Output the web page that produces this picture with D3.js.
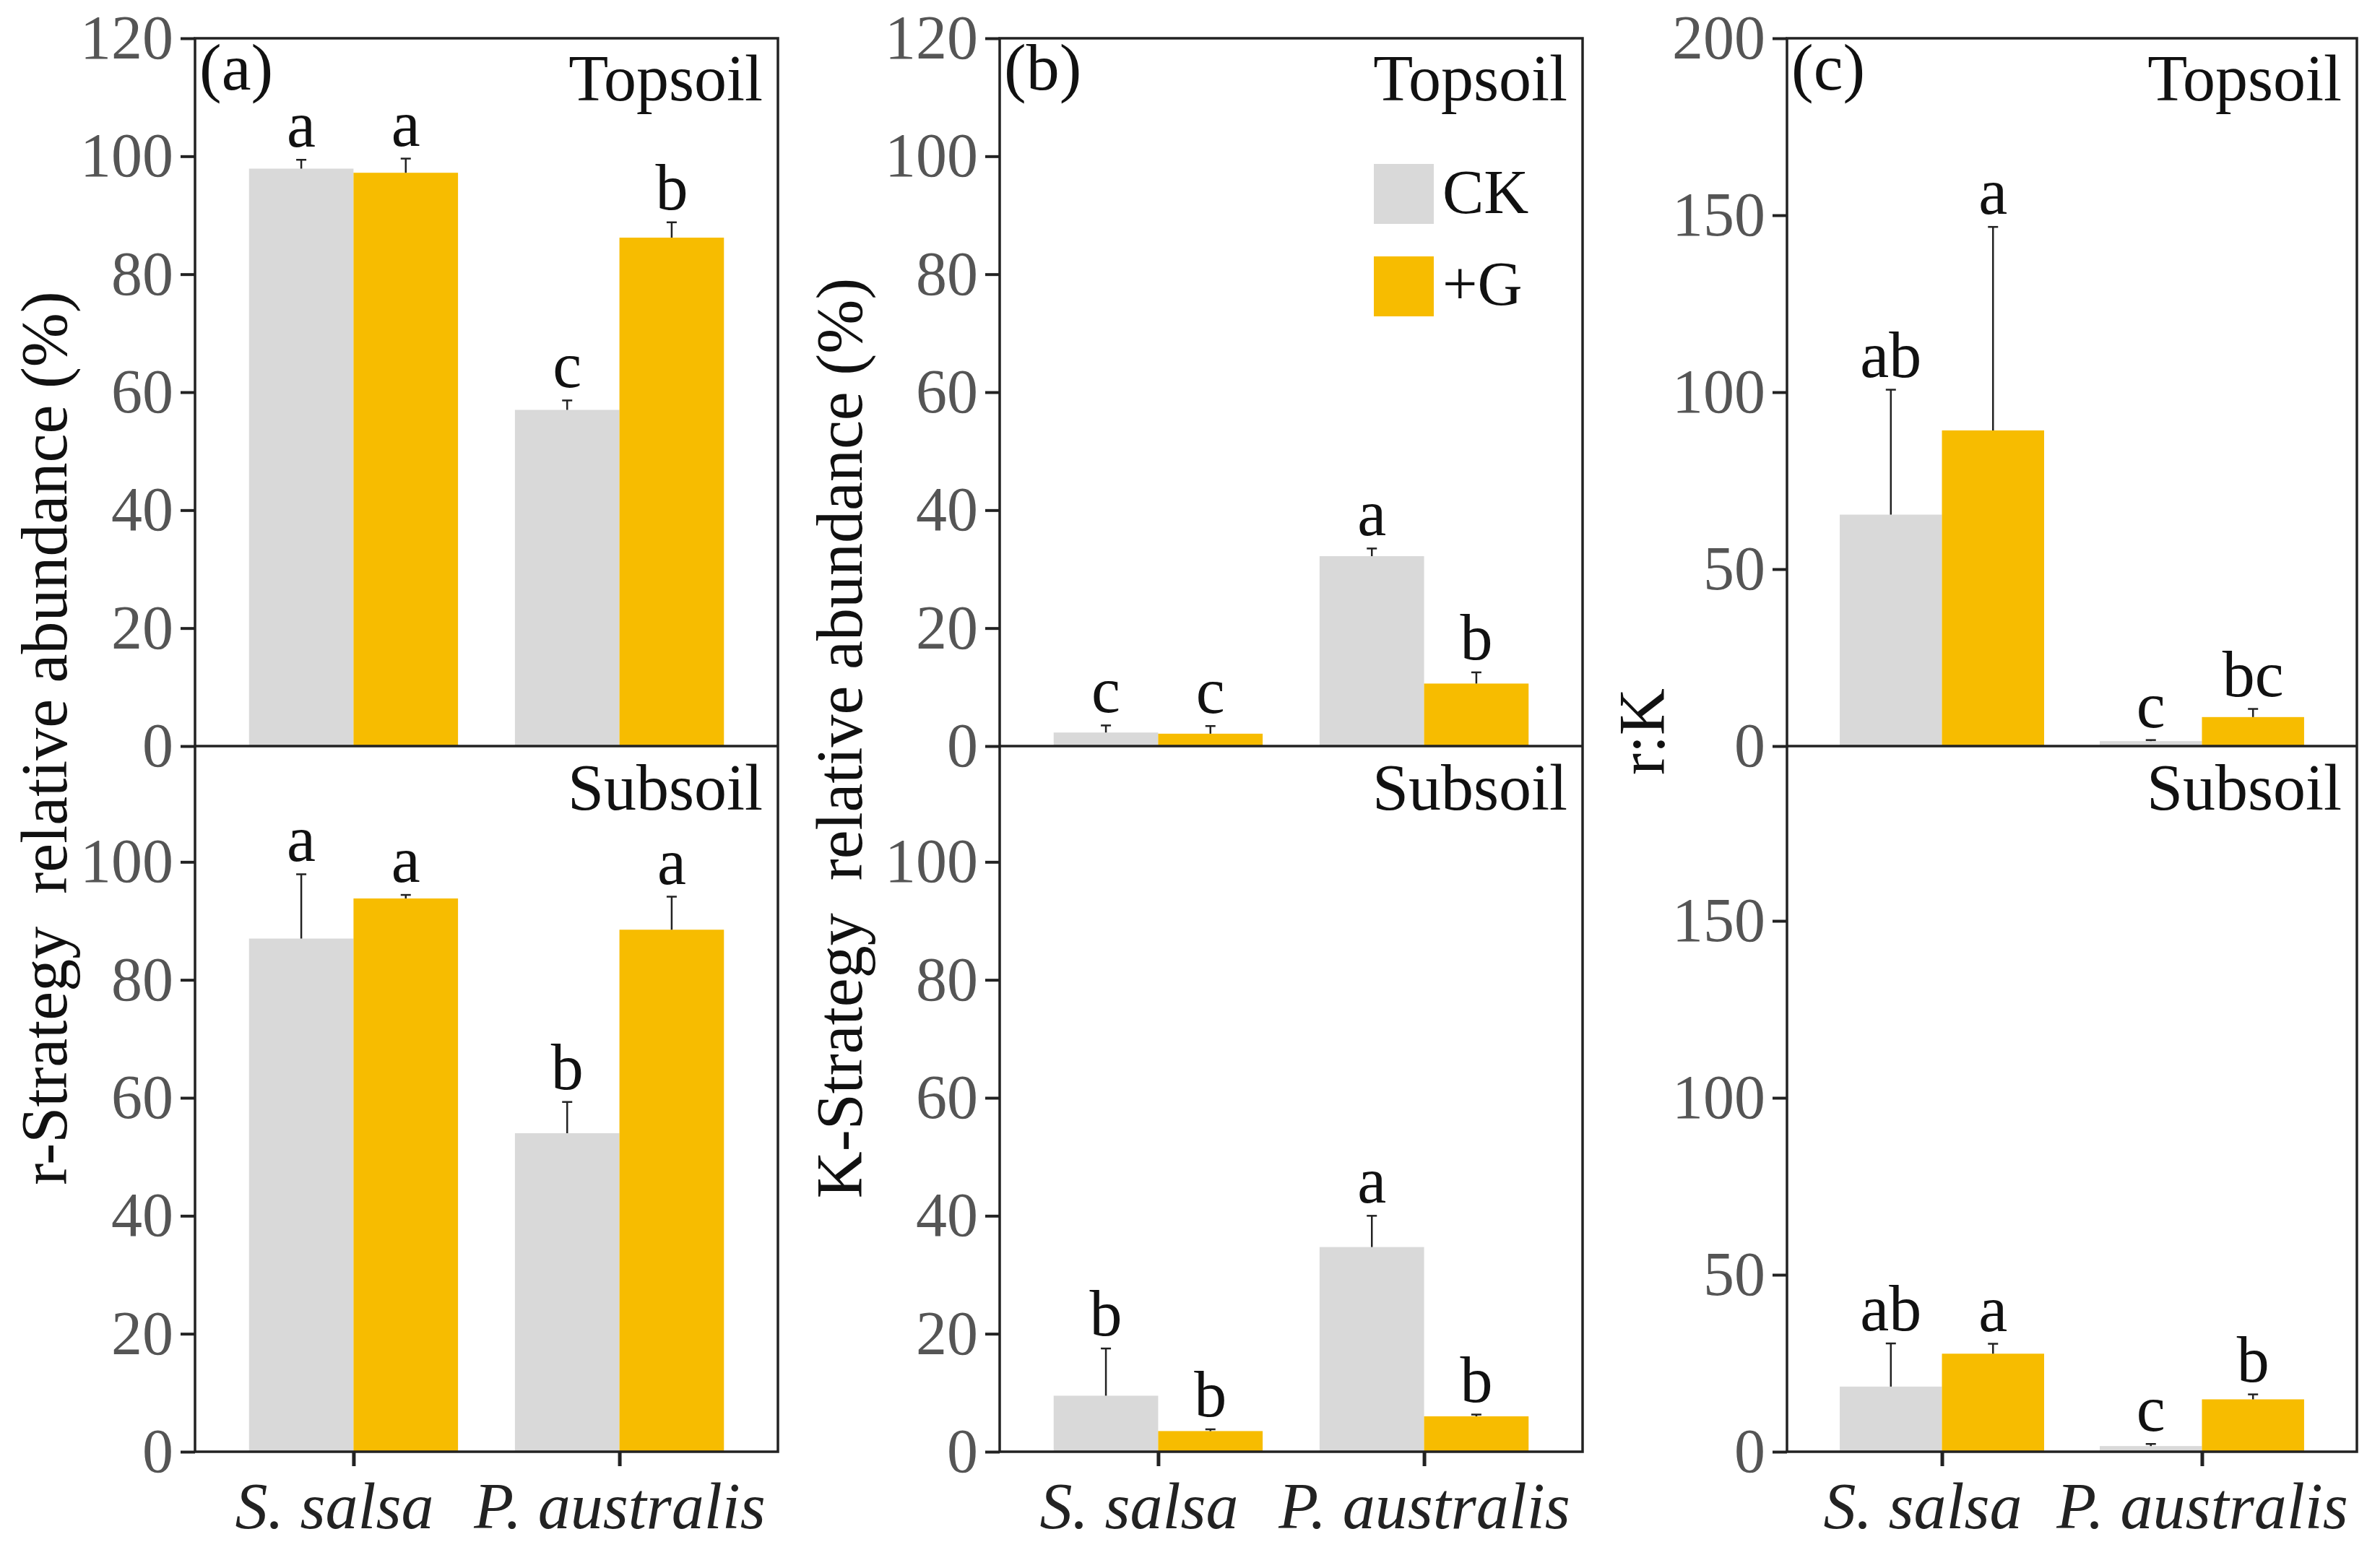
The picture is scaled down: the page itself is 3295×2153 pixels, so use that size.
<!DOCTYPE html>
<html>
<head>
<meta charset="utf-8">
<script src="https://cdn.jsdelivr.net/npm/d3@7"></script>
<style>
body { margin: 0; background: #fff; }
svg text { font-family: "Liberation Serif", "Times New Roman", Times, "DejaVu Serif", serif; }
</style>
</head>
<body>
<svg width="3295" height="2153"></svg>
<script>
// ---- data ----
var sites = ["S. salsa", "P. australis"];
var treatments = ["CK", "+G"];
var colors = ["#d9d9d9", "#f7bc00"];

// (a) r-strategy relative abundance (%)
var rTopCK = [97.9, 57.0], rTopCKse = [1.5, 1.6], rTopCKlet = ["a", "c"];
var rTopG = [97.2, 86.2], rTopGse = [2.4, 2.6], rTopGlet = ["a", "b"];
var rSubCK = [87.0, 54.0], rSubCKse = [10.9, 5.3], rSubCKlet = ["a", "b"];
var rSubG = [93.8, 88.5], rSubGse = [0.6, 5.6], rSubGlet = ["a", "a"];

// (b) K-strategy relative abundance (%)
var kTopCK = [2.3, 32.2], kTopCKse = [1.2, 1.3], kTopCKlet = ["c", "a"];
var kTopG = [2.1, 10.6], kTopGse = [1.3, 1.9], kTopGlet = ["c", "b"];
var kSubCK = [9.5, 34.7], kSubCKse = [8.0, 5.3], kSubCKlet = ["b", "a"];
var kSubG = [3.5, 6.0], kSubGse = [0.3, 0.3], kSubGlet = ["b", "b"];

// (c) r:K
var rkTopCK = [65.4, 1.4], rkTopCKse = [35.3, 0.3], rkTopCKlet = ["ab", "c"];
var rkTopG = [89.2, 8.2], rkTopGse = [57.5, 2.3], rkTopGlet = ["a", "bc"];
var rkSubCK = [18.4, 1.6], rkSubCKse = [12.2, 0.6], rkSubCKlet = ["ab", "c"];
var rkSubG = [27.7, 14.8], rkSubGse = [2.8, 1.4], rkSubGlet = ["a", "b"];

var ticks120 = [0, 20, 40, 60, 80, 100, 120];
var ticks200 = [0, 50, 100, 150, 200];

// ---- layout ----
var svg = d3.select("svg");
var serif = "Liberation Serif";
var top0 = 53, mid = 1033, bot = 2010;
var labelShift = [-27, 0];   // x labels sit a bit left of the first tick in the original

var panels = [
  { tag: "(a)", left: 270, width: 807, max: 120, ticks: ticks120,
    title: "r-Strategy\u00a0\u00a0relative abundance (%)", tx: 92, ty: 1022,
    top: [[rTopCK, rTopG], [rTopCKse, rTopGse], [rTopCKlet, rTopGlet]],
    sub: [[rSubCK, rSubG], [rSubCKse, rSubGse], [rSubCKlet, rSubGlet]] },
  { tag: "(b)", left: 1384, width: 807, max: 120, ticks: ticks120,
    title: "K-Strategy\u00a0\u00a0relative abundance (%)", tx: 1193, ty: 1022,
    top: [[kTopCK, kTopG], [kTopCKse, kTopGse], [kTopCKlet, kTopGlet]],
    sub: [[kSubCK, kSubG], [kSubCKse, kSubGse], [kSubCKlet, kSubGlet]] },
  { tag: "(c)", left: 2474, width: 789, max: 200, ticks: ticks200,
    title: "r:K", tx: 2304, ty: 1013,
    top: [[rkTopCK, rkTopG], [rkTopCKse, rkTopGse], [rkTopCKlet, rkTopGlet]],
    sub: [[rkSubCK, rkSubG], [rkSubCKse, rkSubGse], [rkSubCKlet, rkSubGlet]] }
];

function styleAxis(a) {
  a.attr("font-family", serif);
  a.selectAll("line").attr("stroke", "#222").attr("stroke-width", 4);
  a.select(".domain").remove();
}

function bars(g, x, y, bw, set) {
  var means = set[0], ses = set[1], lets = set[2];
  treatments.forEach(function(t, ti) {
    var rows = sites.map(function(s, si) {
      return { site: s, m: means[ti][si], se: ses[ti][si], l: lets[ti][si] };
    });
    var cx = function(d) { return x(d.site) + (ti - 0.5) * bw; };
    g.selectAll(null).data(rows).enter().append("rect")
      .attr("x", function(d) { return cx(d) - bw / 2; })
      .attr("width", bw)
      .attr("y", function(d) { return y(d.m); })
      .attr("height", function(d) { return y(0) - y(d.m); })
      .attr("fill", colors[ti]);
    g.selectAll(null).data(rows).enter().append("line")
      .attr("x1", cx).attr("x2", cx)
      .attr("y1", function(d) { return y(d.m); })
      .attr("y2", function(d) { return y(d.m + d.se); })
      .attr("stroke", "#222").attr("stroke-width", 2.5);
    g.selectAll(null).data(rows).enter().append("line")
      .attr("x1", function(d) { return cx(d) - 7; })
      .attr("x2", function(d) { return cx(d) + 7; })
      .attr("y1", function(d) { return y(d.m + d.se); })
      .attr("y2", function(d) { return y(d.m + d.se); })
      .attr("stroke", "#222").attr("stroke-width", 2.5);
    g.selectAll(null).data(rows).enter().append("text")
      .attr("x", cx)
      .attr("y", function(d) { return y(d.m + d.se) - 18; })
      .attr("text-anchor", "middle")
      .attr("font-family", serif)
      .attr("font-size", 90).attr("fill", "#111")
      .text(function(d) { return d.l; });
  });
}

panels.forEach(function(p) {
  var g = svg.append("g").attr("transform", "translate(" + p.left + ",0)");
  var x = d3.scalePoint().domain(sites).range([0, p.width]).padding(0.596);
  var bw = x.step() * 0.393;
  var yTop = d3.scaleLinear().domain([0, p.max]).range([mid, top0]);
  var ySub = d3.scaleLinear().domain([0, p.max]).range([bot, bot - (mid - top0)]);

  bars(g, x, yTop, bw, p.top);
  bars(g, x, ySub, bw, p.sub);

  // y axes
  var a1 = g.append("g").call(d3.axisLeft(yTop).tickValues(p.ticks).tickSize(20).tickPadding(10).tickSizeOuter(0));
  var a2 = g.append("g").call(d3.axisLeft(ySub).tickValues(p.ticks.slice(0, -1)).tickSize(20).tickPadding(10).tickSizeOuter(0));
  [a1, a2].forEach(function(a) {
    styleAxis(a);
    a.selectAll("text").attr("font-size", 86).attr("fill", "#555");
  });

  // x axis
  var ax = g.append("g").attr("transform", "translate(0," + bot + ")")
    .call(d3.axisBottom(x).tickSize(20).tickPadding(22).tickSizeOuter(0));
  styleAxis(ax);
  ax.selectAll("line").attr("stroke-width", 5);
  ax.selectAll("text").attr("font-size", 90).attr("font-style", "italic").attr("fill", "#222")
    .attr("dx", function(d, i) { return labelShift[i]; });

  // frame and divider
  g.append("rect").attr("x", 0).attr("y", top0).attr("width", p.width).attr("height", bot - top0)
    .attr("fill", "none").attr("stroke", "#222").attr("stroke-width", 3.5);
  g.append("line").attr("x1", 0).attr("x2", p.width).attr("y1", mid).attr("y2", mid)
    .attr("stroke", "#222").attr("stroke-width", 3.5);

  g.append("text").attr("x", 6).attr("y", top0 + 71).attr("font-family", serif)
    .attr("font-size", 92).attr("fill", "#111").text(p.tag);
  g.append("text").attr("x", p.width - 21).attr("y", top0 + 86).attr("text-anchor", "end")
    .attr("font-family", serif).attr("font-size", 90).attr("fill", "#111").text("Topsoil");
  g.append("text").attr("x", p.width - 21).attr("y", mid + 88).attr("text-anchor", "end")
    .attr("font-family", serif).attr("font-size", 90).attr("fill", "#111").text("Subsoil");

  svg.append("text")
    .attr("transform", "translate(" + p.tx + "," + p.ty + ") rotate(-90)")
    .attr("text-anchor", "middle").attr("font-family", serif)
    .attr("font-size", 90).attr("fill", "#111")
    .text(p.title);
});

// legend (inside panel b)
var leg = svg.append("g").attr("transform", "translate(1902,227)");
leg.selectAll("rect").data(treatments).enter().append("rect")
  .attr("y", function(d, i) { return i * 128; })
  .attr("width", 83).attr("height", 83)
  .attr("fill", function(d, i) { return colors[i]; });
leg.selectAll("text").data(treatments).enter().append("text")
  .attr("x", 95).attr("y", function(d, i) { return 68 + i * 127; })
  .attr("font-family", serif)
  .attr("font-size", 86).attr("fill", "#111")
  .text(function(d) { return d; });
</script>
</body>
</html>
